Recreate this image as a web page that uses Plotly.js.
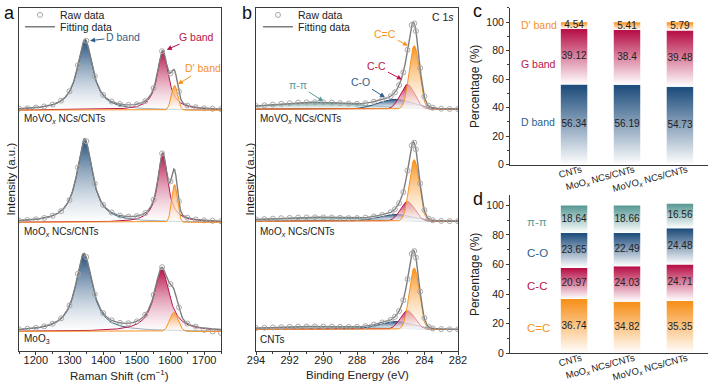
<!DOCTYPE html>
<html>
<head>
<meta charset="utf-8">
<script src="https://cdn.plot.ly/plotly-3.0.1.min.js"></script>
<style>
  html, body { margin: 0; padding: 0; background: #fff; }
  #chart { width: 709px; height: 383px; }
</style>
</head>
<body>
<div id="chart"></div>
<script>
// ---------- panel a : Raman, rows = MoVOx NCs/CNTs, MoOx NCs/CNTs, MoO3
const ramanNames = ['MoVO<sub><i>x</i></sub> NCs/CNTs', 'MoO<sub><i>x</i></sub> NCs/CNTs', 'MoO<sub>3</sub>'];
const dBandPos = [1346, 1345, 1343];
const dBandHeight = [71, 84, 78];
const dBandFwhm = [55, 55, 60];
const gBandPos = [1577, 1577, 1574];
const gBandHeight = [59, 69, 63];
const gBandFwhm = [40, 36, 54];
const d2BandPos = [1612, 1612, 1610];
const d2BandHeight = [25, 38, 19];
const d2BandFwhm = [22, 20, 30];

const ramanRawX = [1150, 1175, 1200, 1225, 1250, 1275, 1300, 1325, 1350, 1375, 1400, 1425, 1450,
  1475, 1500, 1525, 1550, 1575, 1600, 1625, 1650, 1675, 1700, 1725, 1750];
const ramanRaw = [
  [1.5, 1.9, 2.6, 3.7, 5.6, 9.6, 19.0, 45.3, 70.0, 34.2, 15.3, 8.7, 6.1, 5.3, 5.9, 9.2, 22.2, 59.4, 37.2, 18.9, 4.7, 2.9, 1.9, 1.4, 1.1],
  [1.7, 2.3, 3.0, 4.3, 6.6, 11.2, 22.4, 55.2, 81.7, 38.9, 17.5, 9.9, 6.8, 5.7, 6.2, 9.3, 22.7, 69.4, 41.2, 21.1, 4.6, 2.8, 1.95, 1.43, 1.1],
  [2.1, 2.7, 3.6, 5.1, 7.7, 13.2, 26.2, 58.1, 74.9, 37.6, 18.4, 11.2, 8.6, 8.2, 10.1, 16.8, 36.8, 64.7, 47.7, 24.2, 7.9, 4.8, 1.5, 0, -1.5]
];

// ---------- panel b : C 1s XPS, rows = MoVOx NCs/CNTs, MoOx NCs/CNTs, CNTs
const xpsNames = ['MoVO<sub><i>x</i></sub> NCs/CNTs', 'MoO<sub><i>x</i></sub> NCs/CNTs', 'CNTs'];
const ccDoublePos = [284.6, 284.6, 284.6];
const ccDoubleHeight = [64, 62, 62];
const ccDoubleFwhm = [0.7, 0.7, 0.7];
const ccSinglePos = [285.0, 285.0, 285.0];
const ccSingleHeight = [25, 20, 19];
const ccSingleFwhm = [1.0, 1.0, 1.0];
const coPos = [285.7, 285.7, 285.7];
const coHeight = [10, 7, 8];
const coFwhm = [2.4, 2.4, 2.4];
const piPos = [290.5, 290.5, 290.5];
const piHeight = [7, 4, 3];
const piFwhm = [6.5, 6.5, 6.5];

const xpsRawX = [294, 293.5, 293, 292.5, 292, 291.5, 291, 290.5, 290, 289.5, 289, 288.5, 288, 287.5, 287,
  286.5, 286, 285.75, 285.5, 285.25, 285, 284.75, 284.6, 284.5, 284.25, 284, 283.75, 283.5, 283, 282.5, 282];
const xpsRaw = [
  [3.1, 3.9, 4.6, 5.4, 6.0, 6.6, 6.9, 7.0, 6.9, 6.6, 6.1, 5.6, 5.4, 6.0, 7.5, 9.9, 13.0, 16.9, 24.3, 37.1, 59.8, 84.7, 86.4, 78.7, 41.5, 12.9, 3.4, 1.4, 0.5, 0.2, 0.1],
  [1.8, 2.2, 2.6, 3.1, 3.4, 3.8, 3.9, 4.0, 3.9, 3.8, 3.5, 3.2, 3.2, 3.7, 4.9, 6.5, 9.0, 12.1, 18.2, 29.4, 51.1, 76.4, 79.2, 72.5, 38.1, 11.3, 2.7, 1.0, 0.35, 0.17, 0.1],
  [1.35, 1.65, 2.0, 2.3, 2.6, 2.8, 2.9, 3.0, 2.9, 2.8, 2.6, 2.5, 2.6, 3.3, 4.9, 7.0, 9.6, 12.7, 18.5, 29.4, 50.7, 76.2, 79.0, 72.4, 38.1, 11.5, 2.8, 1.0, 0.34, 0.1, 0.05]
];

// ---------- panels c, d : percentages
const samples = ['CNTs', 'MoO<sub><i>x</i></sub> NCs/CNTs', 'MoVO<sub><i>x</i></sub> NCs/CNTs'];
const ramanSeries = ['D band', 'G band', "D' band"];
const dBandPct = [56.34, 56.19, 54.73];
const gBandPct = [39.12, 38.4, 39.48];
const d2BandPct = [4.54, 5.41, 5.79];
const xpsSeries = ['C=C', 'C-C', 'C-O', 'π-π'];
const ccDoublePct = [36.74, 34.82, 35.35];
const ccSinglePct = [20.97, 24.03, 24.71];
const coPct = [23.65, 22.49, 24.48];
const piPct = [18.64, 18.66, 16.56];

// colours
const BLUE = '#22507e', RED = '#b8144a', ORANGE = '#f7921e', TEAL = '#5b9b97', GRAY = '#7d7d7d';
const LBLUE = '#2e6089';
const FONT = 'Liberation Sans, Arial, sans-serif';
const W = 709, H = 383;
const fx = p => p / W;
const fy = p => 1 - p / H;

function lorentz(x, c, h, w) { const t = (x - c) / (w / 2); return h / (1 + t * t); }
function gauss(x, c, h, w) { return h * Math.exp(-4 * Math.LN2 * (x - c) * (x - c) / (w * w)); }
function ax(n) { return n === 1 ? '' : String(n); }

const traces = [];

function peakTrace(n, xs, ys, color, fillTop) {
  return {
    x: xs, y: ys, xaxis: 'x' + ax(n), yaxis: 'y' + ax(n),
    type: 'scatter', mode: 'lines', line: {color: color, width: 1},
    fill: 'tozeroy',
    fillgradient: {type: 'vertical', colorscale: [[0, 'rgba(255,255,255,0.5)'], [1, fillTop]]},
    showlegend: false, hoverinfo: 'skip'
  };
}

// one legend per entry so the two entries can sit close together
function fitAndRaw(n, grid, fit, rawX, rawY, rawLegend, fitLegend, first) {
  traces.push({
    x: grid, y: fit, xaxis: 'x' + ax(n), yaxis: 'y' + ax(n),
    type: 'scatter', mode: 'lines', line: {color: GRAY, width: 1.4},
    name: 'Fitting data', legend: fitLegend, showlegend: first, hoverinfo: 'skip'
  });
  traces.push({
    x: rawX, y: rawY, xaxis: 'x' + ax(n), yaxis: 'y' + ax(n),
    type: 'scatter', mode: 'markers',
    marker: {symbol: 'circle-open', size: 5, color: '#a8a8a8', line: {width: 1}},
    name: 'Raw data', legend: rawLegend, showlegend: first, hoverinfo: 'skip'
  });
}

// Raman panels (axes 1..3)
const ramanGrid = [];
for (let v = 1150; v <= 1750; v += 2) ramanGrid.push(v);
for (let i = 0; i < 3; i++) {
  const n = i + 1;
  const dY = ramanGrid.map(x => lorentz(x, dBandPos[i], dBandHeight[i], dBandFwhm[i]));
  const gY = ramanGrid.map(x => lorentz(x, gBandPos[i], gBandHeight[i], gBandFwhm[i]));
  const d2Y = ramanGrid.map(x => gauss(x, d2BandPos[i], d2BandHeight[i], d2BandFwhm[i]));
  const fit = ramanGrid.map((x, k) => dY[k] + gY[k] + d2Y[k]);
  traces.push(peakTrace(n, ramanGrid, dY, '#2f6381', BLUE));
  traces.push(peakTrace(n, ramanGrid, gY, RED, RED));
  fitAndRaw(n, ramanGrid, fit, ramanRawX, ramanRaw[i], 'legend', 'legend3', i === 0);
  traces.push(peakTrace(n, ramanGrid, d2Y, ORANGE, '#f9a24a'));
}

// XPS panels (axes 4..6)
const xpsGrid = [];
for (let k = 0; k <= 300; k++) xpsGrid.push(294 - k * 0.04);
for (let i = 0; i < 3; i++) {
  const n = i + 4;
  const piY = xpsGrid.map(x => gauss(x, piPos[i], piHeight[i], piFwhm[i]));
  const coY = xpsGrid.map(x => gauss(x, coPos[i], coHeight[i], coFwhm[i]));
  const csY = xpsGrid.map(x => gauss(x, ccSinglePos[i], ccSingleHeight[i], ccSingleFwhm[i]));
  const cdY = xpsGrid.map(x => gauss(x, ccDoublePos[i], ccDoubleHeight[i], ccDoubleFwhm[i]));
  const fit = xpsGrid.map((x, k) => piY[k] + coY[k] + csY[k] + cdY[k]);
  traces.push(peakTrace(n, xpsGrid, piY, TEAL, TEAL));
  traces.push(peakTrace(n, xpsGrid, coY, BLUE, BLUE));
  traces.push(peakTrace(n, xpsGrid, csY, RED, RED));
  traces.push(peakTrace(n, xpsGrid, cdY, ORANGE, ORANGE));
  fitAndRaw(n, xpsGrid, fit, xpsRawX, xpsRaw[i], 'legend2', 'legend4', i === 0);
}

// stacked gradient bars (axes 7, 8)
const BAR_HALF = 0.25;
function stackBars(n, seriesVals, colors) {
  const base = [0, 0, 0];
  seriesVals.forEach((vals, s) => {
    const mids = [];
    vals.forEach((v, i) => {
      const b = base[i], t = base[i] + v;
      traces.push({
        x: [i - BAR_HALF, i + BAR_HALF, i + BAR_HALF, i - BAR_HALF, i - BAR_HALF],
        y: [b, b, t, t, b], xaxis: 'x' + ax(n), yaxis: 'y' + ax(n),
        type: 'scatter', mode: 'lines', line: {width: 0}, fill: 'toself',
        fillgradient: {type: 'vertical', colorscale: [[0, '#ffffff'], [0.96, colors[s]], [1, colors[s]]]},
        showlegend: false, hoverinfo: 'skip'
      });
      mids.push((b + t) / 2);
      base[i] = t;
    });
    traces.push({
      x: [0, 1, 2], y: mids, text: vals.map(String), xaxis: 'x' + ax(n), yaxis: 'y' + ax(n),
      type: 'scatter', mode: 'text', textfont: {size: 10, color: '#222', family: FONT},
      showlegend: false, hoverinfo: 'skip'
    });
  });
}
stackBars(7, [dBandPct, gBandPct, d2BandPct], [BLUE, RED, ORANGE]);
stackBars(8, [ccDoublePct, ccSinglePct, coPct, piPct], [ORANGE, RED, BLUE, TEAL]);

// ---------- layout
const AX = '#3a3a3a';
const plain = {showgrid: false, zeroline: false, automargin: false};
const domA = [fx(19), fx(221)], domB = [fx(256), fx(458)], domCD = [fx(510), fx(708)];
const rowDom = [[fy(120), fy(5)], [fy(236), fy(120)], [fy(351), fy(236)]];
const ramanYR = [[-12, 103], [-15, 101], [-20, 95]];
const xpsYR = [[-13, 102], [-16, 100], [-22, 93]];

function legendAt(xp, yp) {
  return {x: fx(xp), y: fy(yp), xanchor: 'left', yanchor: 'middle', bgcolor: 'rgba(0,0,0,0)',
    font: {size: 10.5}, itemwidth: 30};
}

const layout = {
  width: W, height: H, margin: {l: 0, r: 0, t: 0, b: 0},
  paper_bgcolor: '#fff', plot_bgcolor: 'rgba(0,0,0,0)',
  font: {family: FONT, size: 11, color: '#222'},
  legend: legendAt(20, 12), legend3: legendAt(20, 24),
  legend2: legendAt(258, 12), legend4: legendAt(258, 24),
  annotations: [],
  showlegend: true
};

for (let i = 0; i < 3; i++) {
  const a = i + 1, b = i + 4;
  const xa = Object.assign({}, plain, {domain: domA, range: [1150, 1750], anchor: 'y' + ax(a),
    showline: i !== 1, linecolor: AX, showticklabels: false, ticks: ''});
  const xb = Object.assign({}, plain, {domain: domB, range: [294, 282], anchor: 'y' + ax(b),
    showline: i !== 1, linecolor: AX, showticklabels: false, ticks: ''});
  if (i === 0) { xa.side = 'top'; xb.side = 'top'; }
  if (i === 2) {
    Object.assign(xa, {showticklabels: true, ticks: 'outside', ticklen: 3, tickcolor: AX, dtick: 100,
      ticklabelstandoff: -4, tickfont: {size: 11},
      minor: {dtick: 50, ticks: 'outside', ticklen: 2, tickcolor: AX}});
    Object.assign(xb, {showticklabels: true, ticks: 'outside', ticklen: 3, tickcolor: AX, dtick: 2,
      ticklabelstandoff: -4, tickfont: {size: 11},
      minor: {dtick: 1, ticks: 'outside', ticklen: 2, tickcolor: AX}});
  }
  layout['xaxis' + ax(a)] = xa;
  layout['xaxis' + ax(b)] = xb;
  layout['yaxis' + ax(a)] = Object.assign({}, plain, {domain: rowDom[i], range: ramanYR[i], anchor: 'x' + ax(a),
    showline: true, mirror: true, linecolor: AX, showticklabels: false, ticks: ''});
  layout['yaxis' + ax(b)] = Object.assign({}, plain, {domain: rowDom[i], range: xpsYR[i], anchor: 'x' + ax(b),
    showline: true, mirror: true, linecolor: AX, showticklabels: false, ticks: ''});
}

const barX = {domain: domCD, range: [-1.21, 2.53], showline: true, linecolor: AX, ticks: '',
  tickvals: [0, 1, 2], ticktext: samples, tickangle: -15, tickfont: {size: 9.5},
  ticklabelshift: 7, ticklabelstandoff: -5};
const barY = {range: [0, 110], showline: true, linecolor: AX, ticks: 'outside', ticklen: 3, tickcolor: AX,
  tickvals: [0, 20, 40, 60, 80, 100], tickfont: {size: 10.5},
  minor: {dtick: 10, ticks: 'outside', ticklen: 2, tickcolor: AX},
  title: {text: 'Percentage (%)', font: {size: 12}, standoff: 4}};
layout.xaxis7 = Object.assign({}, plain, barX, {anchor: 'y7'});
layout.yaxis7 = Object.assign({}, plain, barY, {domain: [fy(163), fy(5)], anchor: 'x7'});
layout.xaxis8 = Object.assign({}, plain, barX, {anchor: 'y8'});
layout.yaxis8 = Object.assign({}, plain, barY, {domain: [fy(353), fy(194)], range: [0, 106.7], anchor: 'x8'});

const ann = layout.annotations;
function paperText(text, x, y, opts) {
  ann.push(Object.assign({text: text, x: fx(x), y: fy(y), xref: 'paper', yref: 'paper', showarrow: false,
    xanchor: 'left', yanchor: 'middle', font: {size: 12, color: '#222'}}, opts || {}));
}
// panel letters
paperText('a', 2, 10, {font: {size: 18, color: '#111'}});
paperText('b', 240, 10, {font: {size: 18, color: '#111'}});
paperText('c', 471, 8, {font: {size: 18, color: '#111'}});
paperText('d', 471, 198, {font: {size: 18, color: '#111'}});
// sample names
const nameY = [117, 231, 339];
for (let i = 0; i < 3; i++) {
  paperText(ramanNames[i], 22, nameY[i], {font: {size: 10, color: '#222'}});
  paperText(xpsNames[i], 258, nameY[i], {font: {size: 10, color: '#222'}});
}
paperText('Intensity (a.u.)', 11, 178, {xanchor: 'center', textangle: -90, font: {size: 11.5, color: '#222'}});
paperText('Intensity (a.u.)', 250, 178, {xanchor: 'center', textangle: -90, font: {size: 11.5, color: '#222'}});
paperText('Raman Shift (cm<sup>−1</sup>)', 120, 375, {xanchor: 'center', font: {size: 11.5, color: '#222'}});
paperText('Binding Energy (eV)', 357, 375, {xanchor: 'center', font: {size: 11.5, color: '#222'}});
paperText('C 1<i>s</i>', 456, 14, {xanchor: 'right', font: {size: 10.5, color: '#222'}});

// peak callouts
function callout(text, xr, yr, x, y, dx, dy, color) {
  ann.push({text: text, x: x, y: y, xref: xr, yref: yr, ax: dx, ay: dy, showarrow: true,
    arrowhead: 2, arrowsize: 1, arrowwidth: 1, arrowcolor: color, font: {size: 10.5, color: color}});
}
callout('D band', 'x', 'y', 1361, 70, 33, -4, LBLUE);
callout('G band', 'x', 'y', 1589, 61, 30, -13, RED);
callout("D' band", 'x', 'y', 1622, 26, 25, -16, ORANGE);
callout('C=C', 'x4', 'y4', 284.97, 64, -23, -12, ORANGE);
callout('C-C', 'x4', 'y4', 285.33, 30, -25, -13, RED);
callout('C-O', 'x4', 'y4', 286.34, 12, -24, -15, LBLUE);
callout('π-π', 'x4', 'y4', 290.0, 8, -25, -16, TEAL);

// series labels beside the bars
const ramanLabelY = [30, 70.6, 97.9];
const ramanLabelCol = [LBLUE, RED, ORANGE];
ramanSeries.forEach((s, k) => ann.push({text: s, x: -1.04, y: ramanLabelY[k], xref: 'x7', yref: 'y7',
  showarrow: false, xanchor: 'left', font: {size: 10.5, color: ramanLabelCol[k]}}));
const xpsLabelY = [17.4, 45.6, 67.8, 88.6];
const xpsLabelCol = [ORANGE, RED, LBLUE, TEAL];
xpsSeries.forEach((s, k) => ann.push({text: s, x: -0.93, y: xpsLabelY[k], xref: 'x8', yref: 'y8',
  showarrow: false, xanchor: 'left', font: {size: 11.5, color: xpsLabelCol[k]}}));

Plotly.newPlot('chart', traces, layout, {staticPlot: true, displayModeBar: false});
</script>
</body>
</html>
